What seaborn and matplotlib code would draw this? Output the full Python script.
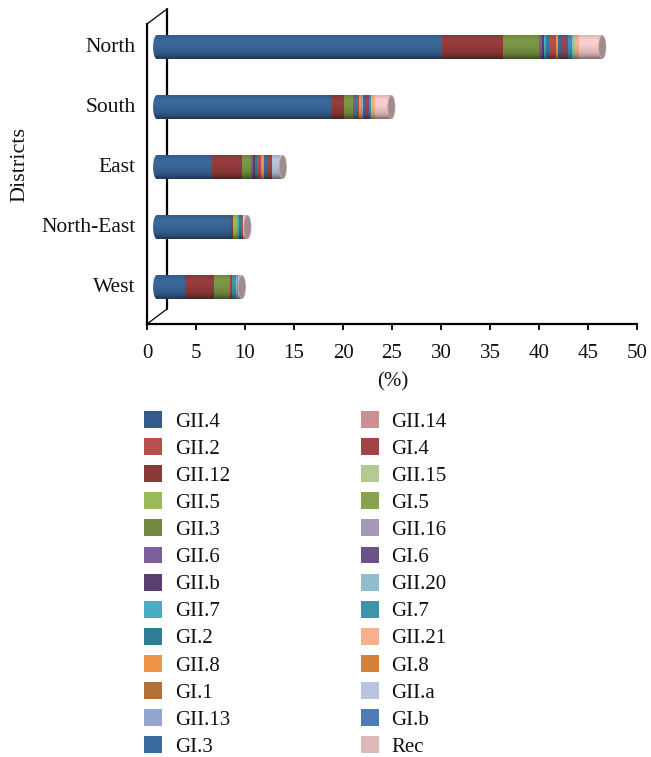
import numpy as np
import matplotlib
matplotlib.use("Agg")
import matplotlib.pyplot as plt
import seaborn as sns
from matplotlib.patches import Ellipse, Patch
from matplotlib.lines import Line2D
from matplotlib.transforms import ScaledTranslation

districts = ["North", "South", "East", "North-East", "West"]

# percent per district, same order as districts
GII_4  = [29.10, 17.86, 5.60, 7.55, 2.83]
GII_2  = [0.68, 0.20, 0.38, 0.15, 0.00]
GII_12 = [6.20, 1.19, 3.06, 0.23, 3.02]
GII_5  = [0.00, 0.00, 0.00, 0.41, 0.00]
GII_3  = [3.70, 0.95, 0.89, 0.00, 1.60]
GII_6  = [0.25, 0.20, 0.25, 0.00, 0.00]
GII_b  = [0.20, 0.00, 0.16, 0.00, 0.00]
GII_7  = [0.20, 0.00, 0.00, 0.20, 0.00]
GI_2   = [0.38, 0.20, 0.23, 0.21, 0.00]
GII_8  = [0.23, 0.20, 0.34, 0.00, 0.00]
GI_1   = [0.00, 0.00, 0.00, 0.00, 0.00]
GII_13 = [0.00, 0.25, 0.00, 0.00, 0.00]
GI_3   = [0.30, 0.20, 0.34, 0.00, 0.00]
GII_14 = [0.00, 0.00, 0.00, 0.00, 0.00]
GI_4   = [0.40, 0.15, 0.41, 0.00, 0.17]
GII_15 = [0.23, 0.12, 0.00, 0.00, 0.00]
GI_5   = [0.00, 0.00, 0.00, 0.00, 0.00]
GII_16 = [0.00, 0.00, 0.00, 0.00, 0.00]
GI_6   = [0.30, 0.25, 0.10, 0.00, 0.00]
GII_20 = [0.20, 0.05, 0.00, 0.00, 0.17]
GI_7   = [0.37, 0.15, 0.00, 0.00, 0.40]
GII_21 = [0.30, 0.27, 0.00, 0.00, 0.00]
GI_8   = [0.05, 0.00, 0.00, 0.00, 0.10]
GII_a  = [0.00, 0.00, 0.75, 0.00, 0.20]
GI_b   = [0.00, 0.00, 0.00, 0.00, 0.00]
Rec    = [2.35, 1.68, 0.34, 0.48, 0.18]

legend_names = ["GII.4", "GII.2", "GII.12", "GII.5", "GII.3", "GII.6", "GII.b", "GII.7", "GI.2",
                "GII.8", "GI.1", "GII.13", "GI.3", "GII.14", "GI.4", "GII.15", "GI.5", "GII.16",
                "GI.6", "GII.20", "GI.7", "GII.21", "GI.8", "GII.a", "GI.b", "Rec"]
legend_colors = ["#335C8C", "#B84F4C", "#8A3838", "#9BBB59", "#71893F", "#7D5F9B", "#5A4070",
                 "#4BACC6", "#2F7F94", "#F09548", "#B36F34", "#93A7CE", "#3B6CA0", "#CD9090",
                 "#A04444", "#B5CA93", "#88A24F", "#A797B9", "#6C5288", "#8FBDCC", "#4093A8",
                 "#F3B28D", "#D3823E", "#B7C4DC", "#4F7CB5", "#DDB9B9"]
series = dict(zip(legend_names, [GII_4, GII_2, GII_12, GII_5, GII_3, GII_6, GII_b, GII_7, GI_2,
                                 GII_8, GI_1, GII_13, GI_3, GII_14, GI_4, GII_15, GI_5, GII_16,
                                 GI_6, GII_20, GI_7, GII_21, GI_8, GII_a, GI_b, Rec]))
colors = dict(zip(legend_names, legend_colors))
bar_colors = dict(colors)
bar_colors["GII.4"] = "#38679A"
bar_colors["GII.12"] = "#953C3C"
bar_colors["GII.3"] = "#7B9644"
bar_colors["Rec"] = "#F8CDCD"
stack_order = ["GII.4", "GII.12", "GII.5", "GII.3", "GII.6", "GII.b", "GII.7", "GI.2", "GII.2",
               "GII.8", "GI.1", "GII.13", "GI.3", "GI.4", "GI.5", "GII.16", "GI.6", "GI.7",
               "GII.20", "GII.15", "GII.14", "GII.21", "GI.8", "GII.a", "GI.b", "Rec"]

sns.set_theme(style="white")
plt.rcParams["font.family"] = ["Liberation Serif", "DejaVu Serif"]
plt.rcParams["text.color"] = "#111111"

W, H = 651, 757
fig = plt.figure(figsize=(W / 100, H / 100), dpi=100)
ax = fig.add_axes([147 / W, (H - 324) / H, 490 / W, 300 / H])

BAR_W = 0.4
cum = np.cumsum([series[n] for n in stack_order], axis=0)
for k in range(len(stack_order) - 1, -1, -1):
    sns.barplot(x=cum[k], y=districts, color=bar_colors[stack_order[k]], saturation=1,
                width=BAR_W, errorbar=None, orient="h", ax=ax, zorder=3)

ax.set_xlim(0, 50)
ax.set_ylim(4.5, -0.5)
depth = ScaledTranslation(10 / 100, 7 / 100, fig.dpi_scale_trans)
tr = ax.transData + depth
for p in ax.patches:
    p.set_transform(tr)
    p.set_linewidth(0)

# cylinder shading
ramp = np.array([0.10, 0.03, 0.0, 0.0, 0.0, 0.02, 0.05, 0.08, 0.12, 0.18, 0.28, 0.45])
shade = np.zeros((len(ramp), 1, 4))
shade[:, 0, 3] = ramp
CAP_W = 0.8
for i, total in enumerate(cum[-1]):
    left = Ellipse((0, i), CAP_W, BAR_W, transform=tr, fc=bar_colors["GII.4"], lw=0, zorder=3)
    ax.add_patch(left)
    im = ax.imshow(shade, extent=(0, total, i + BAR_W / 2, i - BAR_W / 2),
                   aspect="auto", interpolation="bilinear", zorder=4, transform=tr)
    im.set_clip_on(False)
    imL = ax.imshow(shade, extent=(-CAP_W / 2, 0, i + BAR_W / 2, i - BAR_W / 2),
                    aspect="auto", interpolation="bilinear", zorder=4, transform=tr)
    imL.set_clip_path(left)
    cap_back = Ellipse((total, i), CAP_W, BAR_W, transform=tr, fc="#B9A2A3", lw=0, zorder=5)
    ax.add_patch(cap_back)
    cap = Ellipse((total, i), CAP_W * 0.8, BAR_W * 0.9, transform=tr, fc="#A08B8D", lw=0, zorder=6)
    ax.add_patch(cap)

ax.set_xlim(0, 50)
ax.set_ylim(4.5, -0.5)

# spines and ticks
sns.despine(ax=ax, top=True, right=True)
for s in ("left", "bottom"):
    ax.spines[s].set_linewidth(1.6)
    ax.spines[s].set_color("black")
ax.set_xticks(range(0, 51, 5))
ax.tick_params(axis="x", bottom=True, length=4, width=1.3, color="black", pad=10.5,
               labelsize=15, labelcolor="#111111")
ax.tick_params(axis="y", left=False, length=0, pad=8, labelsize=15.5, labelcolor="#111111")
shift = ScaledTranslation(0, 9 / 100, fig.dpi_scale_trans)
for lab in ax.get_yticklabels():
    lab.set_transform(lab.get_transform() + shift)

# back wall of the 3-D frame
dx, dy = 20 / 490, 15 / 300
ax.add_line(Line2D([dx, dx], [dy, 1 + dy], transform=ax.transAxes, color="black", lw=1.6,
                   clip_on=False, zorder=1))
ax.add_line(Line2D([0, dx], [0, dy], transform=ax.transAxes, color="black", lw=0.9,
                   clip_on=False, zorder=1))
ax.add_line(Line2D([0, dx], [1, 1 + dy], transform=ax.transAxes, color="black", lw=0.9,
                   clip_on=False, zorder=1))

ax.set_xlabel("")
ax.set_ylabel("")
fig.text(393 / W, 1 - 382 / H, "(%)", ha="center", va="center", fontsize=15)
fig.text(20 / W, 1 - 165 / H, "Districts", ha="center", va="center", rotation=90, fontsize=16)

handles = [Patch(fc=c, ec="none", label=n) for n, c in zip(legend_names, legend_colors)]
fig.legend(handles=handles, ncol=2, loc="upper left",
           bbox_to_anchor=(144 / W, 1 - 411 / H), bbox_transform=fig.transFigure,
           frameon=False, fontsize=15, handlelength=0.87, handleheight=0.87,
           handletextpad=0.62, labelspacing=0.31, columnspacing=6.25, borderpad=0,
           borderaxespad=0)

fig.savefig("out.png", dpi=100)
